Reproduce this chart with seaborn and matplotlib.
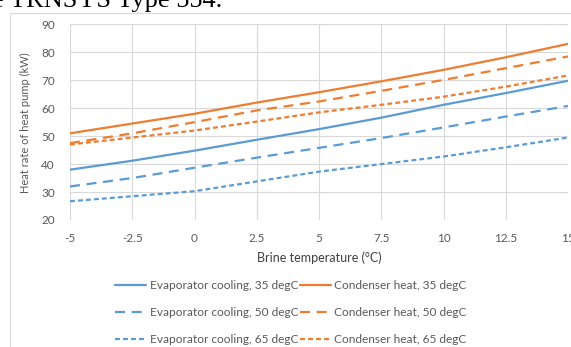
import numpy as np
import pandas as pd
import matplotlib
matplotlib.use("Agg")
import matplotlib.pyplot as plt
from matplotlib.patches import Rectangle
import seaborn as sns

# ---- data ----
brine_temp = [-5, -2.5, 0, 2.5, 5, 7.5, 10, 12.5, 15]
evap_35 = [38, 41.2, 44.8, 48.7, 52.5, 56.6, 61.2, 65.4, 69.8]
evap_50 = [32, 35, 38.7, 42.3, 45.8, 49.3, 53.1, 57, 60.8]
evap_65 = [26.7, 28.5, 30.3, 33.8, 37.3, 40, 42.7, 46, 49.5]
cond_35 = [51, 54.5, 58, 62, 65.7, 69.6, 73.7, 78.2, 83]
cond_50 = [47.5, 51, 55, 59.2, 62.4, 66.2, 70.1, 74.3, 78.5]
cond_65 = [47, 49.5, 52, 55.2, 58.5, 61.2, 64.1, 67.7, 71.7]
series_names = ["Evaporator cooling, 35 degC", "Evaporator cooling, 50 degC",
                "Evaporator cooling, 65 degC", "Condenser heat, 35 degC",
                "Condenser heat, 50 degC", "Condenser heat, 65 degC"]
series_values = [evap_35, evap_50, evap_65, cond_35, cond_50, cond_65]
x_ticks = [-5, -2.5, 0, 2.5, 5, 7.5, 10, 12.5, 15]
x_tick_labels = ["-5", "-2.5", "0", "2.5", "5", "7.5", "10", "12.5", "15"]
y_ticks = [20, 30, 40, 50, 60, 70, 80, 90]

df = pd.DataFrame([
    {"x": t, "y": v, "series": name}
    for name, vals in zip(series_names, series_values)
    for t, v in zip(brine_temp, vals)
])

blue = "#5B9BD5"
orange = "#ED7D31"
palette = {n: (blue if n.startswith("Evap") else orange) for n in series_names}
dash_solid = ""
dash_long = (4.5, 3)
dash_short = (2.2, 1.4)
dashes = {}
for n in series_names:
    if "35" in n:
        dashes[n] = dash_solid
    elif "50" in n:
        dashes[n] = dash_long
    else:
        dashes[n] = dash_short

sns.set_theme(style="white")
plt.rcParams["font.family"] = ["Lato", "DejaVu Sans"]

fig = plt.figure(figsize=(5.71, 3.47), dpi=100)
ax = fig.add_axes([70/571, 1-220/347, (568-70)/571, (220-24.3)/347])

sns.lineplot(data=df, x="x", y="y", hue="series", style="series",
             hue_order=series_names, style_order=series_names,
             palette=palette, dashes=dashes, linewidth=1.6, ax=ax,
             legend=True)

ax.set_xlim(-5, 15)
ax.set_ylim(20, 90)
ax.set_xticks(x_ticks)
ax.set_xticklabels(x_tick_labels)
ax.set_yticks(y_ticks)
ax.grid(True, color="#D9D9D9", linewidth=0.8)
ax.set_axisbelow(True)
for s in ax.spines.values():
    s.set_visible(False)
ax.tick_params(axis="both", length=0, labelsize=8.5, colors="#595959")
ax.tick_params(axis="y", pad=11)
ax.tick_params(axis="x", pad=9)
ax.set_xlabel("Brine temperature (°C)", fontsize=9, color="#404040", labelpad=6)
ax.set_ylabel("Heat rate of heat pump (kW)", fontsize=8, color="#595959", labelpad=7)

handles, labels = ax.get_legend_handles_labels()
ax.get_legend().remove()
leg = fig.legend(handles, labels, ncol=2, loc="center",
                 bbox_to_anchor=(291/571, 1-312.5/347), frameon=False,
                 fontsize=8.6, labelspacing=1.35, columnspacing=0.1,
                 handlelength=2.6, handletextpad=0.3)
for t in leg.get_texts():
    t.set_color("#595959")

# chart frame
fig.patches.append(Rectangle((10/571, -0.05), 1.0, 1-12.5/347+0.05,
                             transform=fig.transFigure, fill=False,
                             edgecolor="#D9D9D9", linewidth=0.8))
# surrounding document text (cut off)
fig.text(-0.014, 1-6.5/347, "e TRNSYS Type 554.", fontsize=19,
         family="Liberation Serif", color="black", ha="left", va="baseline")

fig.savefig("out.png", dpi=100)
